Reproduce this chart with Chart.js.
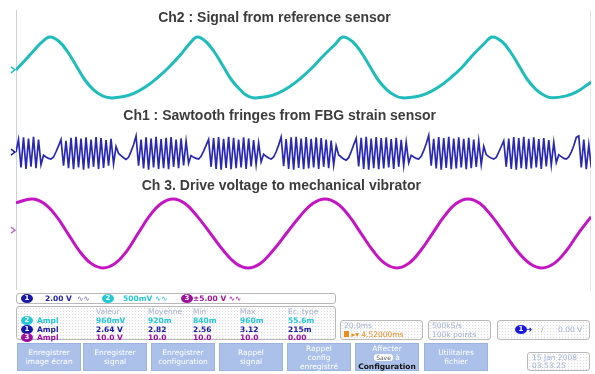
<!DOCTYPE html>
<html>
<head>
<meta charset="utf-8">
<script src="https://cdn.jsdelivr.net/npm/chart.js@4.4.1/dist/chart.umd.min.js"></script>
<style>
body{margin:0;width:595px;height:374px;background:#fff;position:relative;overflow:hidden;font-family:"DejaVu Sans",sans-serif}
#wrap{position:absolute;left:0;top:0;width:595px;height:294px}
.box{position:absolute;border:1.5px solid #b9b9b9;border-radius:3px;background:#fff;box-sizing:border-box}
.dots{background-color:#fbfbfb;background-image:radial-gradient(#dcdcdc 0.7px,transparent 0.9px);background-size:3px 3px}
.t{position:absolute;font-size:7.5px;white-space:nowrap;line-height:9px}
.badge{position:absolute;width:12px;height:9px;border-radius:50%;color:#fff;font-size:7px;font-weight:bold;text-align:center;line-height:9px}
.btn{position:absolute;top:343px;height:28px;width:64px;background:#abc1ea;color:#fff;font-size:7.5px;line-height:9px;display:flex;align-items:center;justify-content:center;box-sizing:border-box;border:1px solid #9cb3de}
.btn div{text-align:center;white-space:nowrap}
</style>
</head>
<body>
<div id="wrap"><canvas id="scope"></canvas></div>

<div class="box" style="left:16px;top:293px;width:320px;height:11px">
  <div class="badge" style="left:4px;top:0;background:#1818a8">1</div>
  <div class="t" style="left:28px;top:0;color:#2020a8;font-weight:bold">2.00 V &nbsp;<span style="font-weight:normal;color:#7070c8">∿∿</span></div>
  <div class="badge" style="left:85px;top:0;background:#20c8d8">2</div>
  <div class="t" style="left:106px;top:0;color:#20c8d8;font-weight:bold">500mV <span style="font-weight:normal">∿∿</span></div>
  <div class="badge" style="left:164px;top:0;background:#a010a0">3</div>
  <div class="t" style="left:176px;top:0;color:#a010a0;font-weight:bold">±5.00 V <span style="font-weight:normal">∿∿</span></div>
</div>
<div class="box dots" id="meas" style="left:16px;top:306px;width:320px;height:34px"></div>

<div class="box dots" style="left:340px;top:320px;width:83px;height:20px">
  <div class="t" style="left:3px;top:0;color:#a3b3d3">20.0ms</div>
  <div class="t" style="left:3px;top:9px;color:#f08c1c"><span style="display:inline-block;width:5px;height:6px;background:#f08c1c"></span> ▸▾ 4.52000ms</div>
</div>
<div class="box dots" style="left:428px;top:320px;width:63px;height:20px">
  <div class="t" style="left:3px;top:0;color:#a3b3d3">500kS/s</div>
  <div class="t" style="left:3px;top:9px;color:#a3b3d3">100k points</div>
</div>
<div class="box dots" style="left:497px;top:320px;width:93px;height:20px">
  <div class="badge" style="left:17px;top:4px;background:#1818e0">1</div>
  <div class="t" style="left:28px;top:4px;color:#1818e0">➜</div>
  <div class="t" style="left:43px;top:4px;color:#a3b3d3">/</div>
  <div class="t" style="left:60px;top:4px;color:#a3b3d3">0.00 V</div>
</div>

<div class="btn" style="left:17px"><div>Enregistrer<br>image écran</div></div>
<div class="btn" style="left:83px"><div>Enregistrer<br>signal</div></div>
<div class="btn" style="left:151px"><div>Enregistrer<br>configuration</div></div>
<div class="btn" style="left:219px"><div>Rappel<br>signal</div></div>
<div class="btn" style="left:287px"><div>Rappel<br>config<br>enregistré</div></div>
<div class="btn" style="left:355px"><div>Affecter<br><span style="background:#fff;color:#555;border-radius:3px;padding:0 2px;font-size:6px">Save</span> à<br><span style="color:#111;font-weight:bold">Configuration</span></div></div>
<div class="btn" style="left:424px"><div>Utilitaires<br>fichier</div></div>

<div class="box dots" style="left:527px;top:352px;width:63px;height:19px">
  <div class="t" style="left:4px;top:0;color:#a3b3d3">15 Jan 2008</div>
  <div class="t" style="left:4px;top:8px;color:#a3b3d3">03:53:25</div>
</div>

<script>
// time in ms (20 ms/div, 10 div), level in screen divisions (8 div)
const ch2Times = [0, 3, 6, 9, 11.8, 15, 18, 21, 24, 27, 30, 32.7, 37, 41, 45, 49, 53, 57, 60, 63,
  66, 69, 72, 75, 78, 80, 82.4, 87, 91, 95, 99, 103, 107, 111, 113.7, 117, 120, 123, 126, 129, 132, 134.3,
  139, 143, 147, 151, 155, 159, 163, 165.6, 169, 172, 175, 178, 181, 184, 186.4, 191, 195, 200];
const ch2Divs = [6.29, 6.55, 6.82, 7.08, 7.23, 7.10, 6.80, 6.40, 6.00, 5.72, 5.55, 5.49, 5.52, 5.62, 5.80, 6.05, 6.35, 6.70, 7.00, 7.23,
  7.10, 6.80, 6.40, 6.00, 5.72, 5.57, 5.49, 5.52, 5.62, 5.80, 6.05, 6.35, 6.70, 7.02, 7.23, 7.10, 6.80, 6.40, 6.00, 5.72, 5.55, 5.49,
  5.52, 5.62, 5.80, 6.05, 6.35, 6.72, 7.05, 7.23, 7.10, 6.80, 6.40, 6.00, 5.72, 5.55, 5.49, 5.54, 5.66, 5.94];

const ch3Times = [0, 5.6, 9.8, 14.0, 18.0, 22.0, 26.1, 30.3, 34.5, 38.6, 42.5, 46.4, 50.5, 54.6, 58.8, 63.0,
  67.6, 72.2, 76.5, 80.7, 85.0, 89.3, 94.1, 98.8, 103.2, 107.5, 111.7, 115.9, 120.0, 124.2, 128.3, 132.5,
  136.6, 140.7, 144.9, 149.0, 153.1, 157.2, 161.4, 165.5, 169.9, 174.3, 178.7, 183.0, 187.2, 191.4, 195.6, 200];
const ch3Divs = [2.49, 2.60, 2.47, 2.11, 1.62, 1.12, 0.76, 0.63, 0.76, 1.12, 1.62, 2.11, 2.47, 2.60, 2.47, 2.11,
  1.62, 1.12, 0.76, 0.63, 0.76, 1.12, 1.62, 2.11, 2.47, 2.60, 2.47, 2.11, 1.62, 1.12, 0.76, 0.63,
  0.76, 1.12, 1.62, 2.11, 2.47, 2.60, 2.47, 2.11, 1.62, 1.12, 0.76, 0.63, 0.76, 1.12, 1.62, 2.09];

const ch1Step = 0.87; // ms between samples
const ch1Divs = [3.94,
  4.30, 3.50, 4.36, 3.46, 4.33, 3.52, 4.38, 3.48, 4.30, 3.58,
  3.85, 3.80, 3.76, 3.74, 3.80, 3.95, 4.12, 4.30,
  3.55, 4.26, 3.48, 4.35, 3.45, 4.38, 3.50, 4.33, 3.44, 4.36, 3.47, 4.30, 3.52, 4.37, 3.46, 4.34, 3.49, 4.28, 3.55, 4.32, 3.60, 4.10,
  3.90, 3.84, 3.78, 3.73, 3.79, 3.96, 4.15, 4.40,
  3.55, 4.30, 3.47, 4.36, 3.44, 4.33, 3.50, 4.38, 3.46, 4.31, 3.48, 4.35, 3.45, 4.37, 3.52, 4.30, 3.48, 4.33, 3.56, 4.25, 3.62,
  3.84, 3.79, 3.76, 3.74, 3.82, 3.97, 4.13, 4.30,
  3.52, 4.34, 3.46, 4.37, 3.44, 4.32, 3.49, 4.38, 3.45, 4.35, 3.48, 4.30, 3.50, 4.36, 3.46, 4.33, 3.53, 4.28, 3.58, 4.20, 3.66,
  3.88, 3.82, 3.77, 3.74, 3.80, 3.95, 4.14, 4.37,
  3.54, 4.31, 3.46, 4.36, 3.44, 4.38, 3.49, 4.33, 3.45, 4.37, 3.47, 4.32, 3.50, 4.36, 3.46, 4.34, 3.52, 4.30, 3.48, 4.27, 3.57, 4.12,
  3.86, 3.80, 3.74, 3.71, 3.78, 3.95, 4.15, 4.33,
  3.53, 4.35, 3.46, 4.38, 3.44, 4.33, 3.48, 4.37, 3.45, 4.34, 3.47, 4.36, 3.50, 4.31, 3.46, 4.35, 3.52, 4.29, 3.56, 4.22, 3.63,
  3.85, 3.80, 3.76, 3.74, 3.82, 3.98, 4.18, 4.42,
  3.55, 4.32, 3.47, 4.37, 3.44, 4.34, 3.49, 4.38, 3.45, 4.33, 3.47, 4.36, 3.50, 4.32, 3.45, 4.35, 3.48, 4.30, 3.52, 4.26, 3.58, 4.10,
  3.87, 3.81, 3.77, 3.74, 3.79, 3.94, 4.10, 4.26,
  3.52, 4.33, 3.46, 4.37, 3.44, 4.34, 3.48, 4.38, 3.45, 4.32, 3.47, 4.36, 3.50, 4.31, 3.46, 4.34, 3.53, 4.28, 3.57, 4.22, 3.64,
  3.86, 3.81, 3.76, 3.74, 3.80, 3.94, 4.12, 4.36,
  4.40, 3.50, 4.30, 3.45, 4.15, 3.50];

const traceLabels = ['Ch2 : Signal from reference sensor', 'Ch1 : Sawtooth fringes from FBG strain sensor', 'Ch 3. Drive voltage to mechanical vibrator'];
const labelTimes = [89.9, 91.7, 92.3];
const labelDivs = [7.77, 4.97, 2.97];
const markerDivs = [6.29, 3.94, 1.71];
const markerColors = ['#22c0c8', '#1818a8', '#c070c8'];

// measurement panel
const measHeaders = ['Valeur', 'Moyenne', 'Min', 'Max', 'Ec. type'];
const measChannels = ['2', '1', '3'];
const measColors = ['#20c8d8', '#1818a8', '#a010a0'];
const measRows = [
  ['960mV', '920m', '840m', '960m', '55.6m'],
  ['2.64 V', '2.82', '2.56', '3.12', '215m'],
  ['10.0 V', '10.0', '10.0', '10.0', '0.00']
];
const measCols = [79, 131, 176, 223, 271];

const meas = document.getElementById('meas');
let html = '';
measHeaders.forEach((h, i) => {
  html += `<div class="t" style="left:${measCols[i]}px;top:0;color:#a8b4cc">${h}</div>`;
});
measRows.forEach((row, r) => {
  const top = 9 + r * 8.5;
  html += `<div class="badge" style="left:4px;top:${top}px;background:${measColors[r]}">${measChannels[r]}</div>`;
  html += `<div class="t" style="left:20px;top:${top}px;color:${measColors[r]};font-weight:bold">Ampl</div>`;
  row.forEach((v, i) => {
    html += `<div class="t" style="left:${measCols[i]}px;top:${top}px;color:${measColors[r]};font-weight:bold">${v}</div>`;
  });
});
meas.innerHTML = html;

const scopeText = {
  id: 'scopeText',
  beforeDatasetsDraw(chart) {
    const { ctx, chartArea: a } = chart;
    ctx.save();
    ctx.strokeStyle = '#c9d2e2';
    ctx.lineWidth = 1;
    ctx.beginPath();
    ctx.moveTo(a.left + 0.5, a.top);
    ctx.lineTo(a.left + 0.5, a.bottom);
    ctx.stroke();
    ctx.strokeStyle = '#e4e4e4';
    ctx.beginPath();
    ctx.moveTo(a.right - 0.5, a.top);
    ctx.lineTo(a.right - 0.5, a.bottom);
    ctx.stroke();
    ctx.restore();
  },
  afterDatasetsDraw(chart) {
    const { ctx, scales: { x, y }, chartArea: a } = chart;
    ctx.save();
    ctx.font = 'bold 14px "Liberation Sans", Arial, sans-serif';
    ctx.fillStyle = '#3c3c3c';
    ctx.textAlign = 'center';
    ctx.textBaseline = 'middle';
    traceLabels.forEach((t, i) => {
      ctx.fillText(t, x.getPixelForValue(labelTimes[i]), y.getPixelForValue(labelDivs[i]));
    });
    markerDivs.forEach((d, i) => {
      const py = y.getPixelForValue(d);
      ctx.strokeStyle = markerColors[i];
      ctx.lineWidth = 1.5;
      ctx.beginPath();
      ctx.moveTo(a.left - 5, py - 3);
      ctx.lineTo(a.left - 1, py);
      ctx.lineTo(a.left - 5, py + 3);
      ctx.stroke();
    });
    ctx.restore();
  }
};

new Chart(document.getElementById('scope'), {
  type: 'line',
  data: {
    datasets: [
      {
        label: 'Ch2',
        data: ch2Times.map((t, i) => ({ x: t, y: ch2Divs[i] })),
        borderColor: '#1fbcbc',
        borderWidth: 3,
        tension: 0.4,
        pointRadius: 0
      },
      {
        label: 'Ch1',
        data: ch1Divs.map((v, i) => ({ x: i * ch1Step, y: v })),
        borderColor: '#2828b4',
        borderWidth: 1.7,
        tension: 0,
        pointRadius: 0
      },
      {
        label: 'Ch3',
        data: ch3Times.map((t, i) => ({ x: t, y: ch3Divs[i] })),
        borderColor: '#c414c4',
        borderWidth: 3,
        tension: 0.4,
        pointRadius: 0
      }
    ]
  },
  options: {
    responsive: true,
    maintainAspectRatio: false,
    animation: false,
    layout: { padding: { left: 16, right: 4, top: 10, bottom: 4 } },
    plugins: { legend: { display: false }, tooltip: { enabled: false } },
    scales: {
      x: { type: 'linear', min: 0, max: 200, display: false },
      y: { min: 0, max: 8, display: false }
    }
  },
  plugins: [scopeText]
});
</script>
</body>
</html>
